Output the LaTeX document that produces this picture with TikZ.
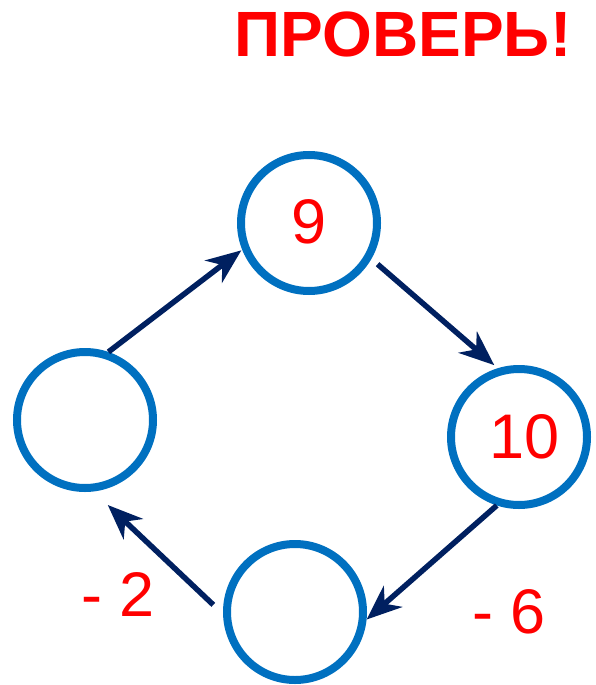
\documentclass[tikz,border=0pt]{standalone}
\usepackage{fontspec}
\setmainfont{Liberation Sans}
\usetikzlibrary{arrows.meta}
\definecolor{ringblue}{HTML}{0070C0}
\definecolor{navy}{HTML}{002060}
\definecolor{txtred}{HTML}{FF0000}
\begin{document}
\begin{tikzpicture}[x=1pt,y=-1pt,
  ring/.style={circle,draw=ringblue,line width=8pt,minimum size=136pt,inner sep=0pt,text=txtred,font=\fontsize{63}{65}\selectfont},
  conn/.style={draw=navy,line width=5.5pt,-{Stealth[length=35pt,width=28pt,inset=11pt]}},
  lbl/.style={text=txtred,font=\fontsize{63}{65}\selectfont}]
\useasboundingbox (0,0) rectangle (596,685);
\node[text=txtred,font=\fontsize{64}{66}\selectfont\bfseries] (title) at (403,34) {ПРОВЕРЬ!};
\node[ring] (t) at (309,223) {\raisebox{3.5pt}{9}};
\node[ring] (r) at (519,437) {\hspace*{12pt}10};
\node[ring] (b) at (295,612) {};
\node[ring] (l) at (85,420) {};
\draw[conn] ([shift={(-71:72)}]l.center) -- ([shift={(-202:73)}]t.center);
\draw[conn] ([shift={(31:80)}]t.center) -- ([shift={(-109:76)}]r.center);
\draw[conn] ([shift={(-252:72)}]r.center) -- ([shift={(6:72)}]b.center);
\draw[conn] ([shift={(-175:82)}]b.center) -- ([shift={(75:88)}]l.center);
\node[lbl] (m2) at (118,594.5) {- 2};
\node[lbl] (m6) at (509,612) {- 6};
\end{tikzpicture}
\end{document}
